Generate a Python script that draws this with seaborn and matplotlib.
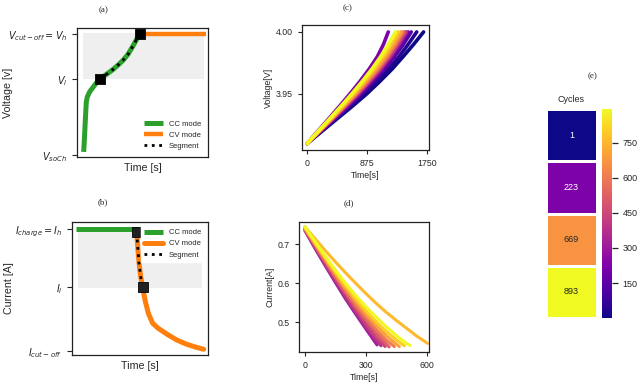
import matplotlib
matplotlib.use('Agg')
import numpy as np
import pandas as pd
import matplotlib.pyplot as plt
import seaborn as sns

# (a) voltage sketch
a_cc_time = [5.09, 5.60, 6.11, 6.62, 7.12, 7.89, 9.67, 13.49, 17.30, 22.39,
             27.48, 31.30, 35.11, 38.93, 42.75, 45.29, 47.84]
a_cc_volt = [3.228, 3.324, 3.435, 3.545, 3.642, 3.683, 3.724, 3.779, 3.83, 3.867,
             3.908, 3.944, 3.983, 4.033, 4.102, 4.152, 4.20]
a_cv_time = [47.84, 98.2]
a_cv_volt = [4.20, 4.20]
a_seg_time = [17.30, 22.39, 27.48, 31.30, 35.11, 38.93, 42.75, 45.29, 47.84]
a_seg_volt = [3.83, 3.867, 3.908, 3.944, 3.983, 4.033, 4.102, 4.152, 4.20]
a_mark_time = [17.30, 47.84]
a_mark_volt = [3.83, 4.20]
a_band_time = [4.6, 96.7]
a_band_volt = [3.83, 4.21]
a_ticks = [3.2, 3.83, 4.2]
a_labels = ['$V_{soCh}$', '$V_l$', '$V_{cut-off} = V_h$']

# (b) current sketch
b_cc_time = [3.2, 49.5]
b_cc_curr = [0.75, 0.75]
b_cv_time = [47.56, 48.29, 49.27, 50.49, 51.95, 53.66, 56.10, 59.27, 63.41,
             69.51, 76.83, 84.15, 91.46, 96.83]
b_cv_curr = [0.731, 0.651, 0.555, 0.478, 0.416, 0.343, 0.267, 0.209, 0.180,
             0.148, 0.114, 0.089, 0.071, 0.060]
b_seg_time = [47.56, 48.29, 49.27, 50.49, 51.95]
b_seg_curr = [0.731, 0.651, 0.555, 0.478, 0.416]
b_mark_time = [47.56, 51.95]
b_mark_curr = [0.731, 0.416]
b_band_time = [4.1, 95.9]
b_band_curr = [0.414, 0.737]
b_ticks = [0.05, 0.416, 0.75]
b_labels = ['$I_{cut-off}$', '$I_l$', '$I_{charge} = I_h$']

# (c) CC voltage per cycle: time at which each voltage level is reached
c_cycles = [1, 30, 120, 200, 350, 450, 600, 700, 800, 893, 223]
c_levels = [3.91, 3.92, 3.93, 3.94, 3.95, 3.96, 3.97, 3.98, 3.99, 4.00]
c_times = [
    [0, 220, 440, 660, 870, 1060, 1240, 1400, 1555, 1700],
    [0, 213, 425, 635, 835, 1020, 1190, 1340, 1475, 1600],
    [0, 200, 400, 600, 790, 965, 1130, 1275, 1405, 1520],
    [0, 195, 390, 583, 770, 940, 1100, 1243, 1365, 1475],
    [0, 190, 380, 568, 750, 918, 1075, 1215, 1338, 1450],
    [0, 186, 371, 555, 733, 898, 1053, 1192, 1315, 1430],
    [0, 181, 362, 541, 715, 877, 1030, 1167, 1290, 1400],
    [0, 176, 352, 526, 695, 853, 1003, 1138, 1260, 1370],
    [0, 170, 340, 508, 672, 827, 973, 1105, 1223, 1330],
    [0, 165, 330, 493, 652, 803, 945, 1073, 1188, 1290],
    [0, 158, 316, 472, 625, 770, 905, 1025, 1115, 1185],
]

# (d) CV current per cycle
d_cycles = [320, 380, 440, 520, 600, 700, 800, 893, 760]
d_times = [
    [0, 50, 100, 150, 200, 250, 300, 355],
    [0, 50, 100, 150, 200, 250, 300, 350, 375],
    [0, 50, 100, 150, 200, 250, 300, 350, 395],
    [0, 50, 100, 150, 200, 250, 300, 350, 400, 415],
    [0, 50, 100, 150, 200, 250, 300, 350, 400, 440],
    [0, 50, 100, 150, 200, 250, 300, 350, 400, 450, 465],
    [0, 50, 100, 150, 200, 250, 300, 350, 400, 450, 490],
    [0, 50, 100, 150, 200, 250, 300, 350, 400, 450, 500, 517],
    [0, 50, 100, 150, 200, 250, 300, 350, 400, 450, 500, 550, 604],
]
d_currents = [
    [0.735, 0.689, 0.645, 0.602, 0.560, 0.521, 0.483, 0.442],
    [0.737, 0.692, 0.649, 0.607, 0.566, 0.527, 0.490, 0.455, 0.440],
    [0.738, 0.695, 0.653, 0.612, 0.572, 0.534, 0.498, 0.463, 0.438],
    [0.739, 0.697, 0.656, 0.616, 0.577, 0.540, 0.506, 0.474, 0.445, 0.437],
    [0.740, 0.699, 0.659, 0.620, 0.582, 0.546, 0.513, 0.482, 0.455, 0.438],
    [0.742, 0.702, 0.663, 0.625, 0.588, 0.554, 0.522, 0.493, 0.466, 0.444, 0.438],
    [0.743, 0.704, 0.666, 0.629, 0.594, 0.561, 0.530, 0.502, 0.477, 0.455, 0.440],
    [0.745, 0.707, 0.670, 0.634, 0.600, 0.569, 0.540, 0.514, 0.489, 0.466, 0.446, 0.441],
    [0.745, 0.714, 0.684, 0.655, 0.627, 0.600, 0.574, 0.549, 0.526, 0.505, 0.485, 0.465, 0.446],
]

# (e) selected cycles
e_cycles = [1, 223, 669, 893]

green = '#2ca02c'
orange = '#ff7f0e'
band = '#efefef'

sns.set_style('ticks')
plt.rcParams['font.family'] = ['Liberation Sans', 'DejaVu Sans']
plt.rcParams['mathtext.fontset'] = 'dejavusans'
plt.rcParams['axes.edgecolor'] = '#222222'
plt.rcParams['axes.linewidth'] = 0.9

fig = plt.figure(figsize=(6.4, 3.86), dpi=100)


def px_axes(left, top, right, bottom):
    return fig.add_axes([left / 640, 1 - bottom / 386,
                         (right - left) / 640, (bottom - top) / 386])


def letter(x, y, s):
    fig.text(x / 640, 1 - y / 386, s, ha='center', va='center',
             fontsize=6.5, family='Liberation Serif')


# (a)
ax = px_axes(77, 28, 208, 157)
ax.fill_between(a_band_time, a_band_volt[0], a_band_volt[1], color=band, lw=0)
sns.lineplot(x=a_cc_time, y=a_cc_volt, ax=ax, sort=False, color=green, lw=3.6,
             label='CC mode', solid_capstyle='butt')
sns.lineplot(x=a_cv_time, y=a_cv_volt, ax=ax, sort=False, color=orange, lw=3.2,
             label='CV mode', solid_capstyle='butt')
sns.lineplot(x=a_seg_time, y=a_seg_volt, ax=ax, sort=False, color='black', lw=2,
             linestyle=':', label='Segment')
sns.scatterplot(x=a_mark_time, y=a_mark_volt, ax=ax, marker='s', s=55,
                color='black', edgecolor='black', zorder=5)
ax.set_xlim(0, 100)
ax.set_ylim(3.186, 4.25)
ax.set_xticks([])
ax.set_yticks(a_ticks, a_labels, fontsize=7)
ax.set_xlabel('Time [s]', fontsize=7.7)
ax.set_ylabel('Voltage [v]', fontsize=7.7)
ax.yaxis.set_label_coords(-0.49, 0.5)
ax.legend(loc='lower right', fontsize=5.5, frameon=False, handlelength=2.4)
letter(104, 10, '(a)')

# (b)
ax = px_axes(72, 222, 208, 355)
ax.fill_between(b_band_time, b_band_curr[0], b_band_curr[1], color=band, lw=0)
sns.lineplot(x=b_cc_time, y=b_cc_curr, ax=ax, sort=False, color=green, lw=3.6,
             label='CC mode', solid_capstyle='butt')
sns.lineplot(x=b_cv_time, y=b_cv_curr, ax=ax, sort=False, color=orange, lw=3.6,
             label='CV mode')
sns.lineplot(x=b_seg_time, y=b_seg_curr, ax=ax, sort=False, color='black', lw=2,
             linestyle=':', label='Segment')
sns.scatterplot(x=b_mark_time, y=b_mark_curr, ax=ax, marker='s', s=55,
                color='#222222', edgecolor='black', zorder=5)
ax.set_xlim(0, 100)
ax.set_ylim(0.027, 0.79)
ax.set_xticks([])
ax.set_yticks(b_ticks, b_labels, fontsize=7)
ax.set_xlabel('Time [s]', fontsize=7.7)
ax.set_ylabel('Current [A]', fontsize=7.7)
ax.yaxis.set_label_coords(-0.43, 0.5)
ax.legend(loc='upper right', fontsize=5.5, facecolor='white', edgecolor='white',
          framealpha=1, fancybox=False, handlelength=2.4)
letter(103, 202, '(b)')

# (c)
c_df = pd.concat([pd.DataFrame({'time': t, 'voltage': c_levels, 'cycle': c})
                  for t, c in zip(c_times, c_cycles)])
ax = px_axes(302, 25, 429, 150)
sns.lineplot(data=c_df, x='time', y='voltage', hue='cycle', units='cycle',
             estimator=None, sort=False, palette='plasma', hue_norm=(1, 893),
             lw=2.6, legend=False, ax=ax)
ax.set_xlim(-73, 1779)
ax.set_ylim(3.9048, 4.0056)
ax.set_xticks([0, 875, 1750])
ax.set_yticks([3.95, 4.00], ['3.95', '4.00'])
ax.tick_params(labelsize=6.3, length=3)
ax.set_xlabel('Time[s]', fontsize=6.3, labelpad=2)
ax.set_ylabel('Voltage[V]', fontsize=6.3, labelpad=2)
letter(348, 8, '(c)')

# (d)
d_df = pd.concat([pd.DataFrame({'time': t, 'current': i, 'cycle': c})
                  for t, i, c in zip(d_times, d_currents, d_cycles)])
ax = px_axes(299, 222, 429, 352)
sns.lineplot(data=d_df, x='time', y='current', hue='cycle', units='cycle',
             estimator=None, sort=False, palette='plasma', hue_norm=(1, 893),
             lw=2.2, legend=False, ax=ax)
ax.set_xlim(-29, 611)
ax.set_ylim(0.424, 0.757)
ax.set_xticks([0, 300, 600])
ax.set_yticks([0.5, 0.6, 0.7])
ax.tick_params(labelsize=6.3, length=3)
ax.set_xlabel('Time[s]', fontsize=6.3, labelpad=2)
ax.set_ylabel('Current[A]', fontsize=6.3, labelpad=2)
letter(349, 203, '(d)')

# (e)
ax = px_axes(546, 109, 597, 318)
cax = px_axes(602, 109, 612, 318)
sns.heatmap(np.array(e_cycles).reshape(-1, 1), ax=ax, cbar_ax=cax, cmap='plasma',
            vmin=1, vmax=893, annot=True, fmt='d', annot_kws={'fontsize': 6.5},
            linewidths=1, linecolor='white', xticklabels=False, yticklabels=False)
ax.set_title('Cycles', fontsize=6.5, pad=5)
cax.set_yticks([150, 300, 450, 600, 750])
cax.tick_params(labelsize=6.5, length=4, width=0.9)
letter(593, 76, '(e)')

fig.savefig('out.png', dpi=100)
